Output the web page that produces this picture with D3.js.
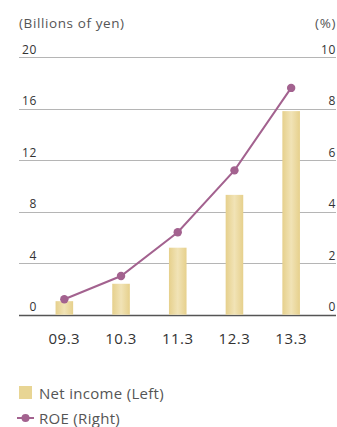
<!DOCTYPE html>
<html>
<head>
<meta charset="utf-8">
<script src="https://cdn.jsdelivr.net/npm/d3@7"></script>
<style>
  body { margin: 0; background: #fff; }
  text { font-family: "Open Sans", sans-serif; }
</style>
</head>
<body>
<div id="chart"></div>
<script>
var years = ["09.3", "10.3", "11.3", "12.3", "13.3"];
var netIncome = [1.05, 2.4, 5.2, 9.3, 15.8];
var roe = [0.6, 1.5, 3.2, 5.6, 8.8];
var leftTicks = [0, 4, 8, 12, 16, 20];
var rightTicks = [0, 2, 4, 6, 8, 10];

var width = 337, height = 427;
var svg = d3.select("#chart").append("svg")
  .attr("width", width).attr("height", height);

var defs = svg.append("defs");
var grad = defs.append("linearGradient").attr("id", "barGrad")
  .attr("x1", "0%").attr("x2", "100%").attr("y1", "0%").attr("y2", "0%");
grad.append("stop").attr("offset", "0%").attr("stop-color", "#e6d08c");
grad.append("stop").attr("offset", "50%").attr("stop-color", "#f1e3b6");
grad.append("stop").attr("offset", "100%").attr("stop-color", "#e6d08c");

var x = d3.scaleBand().domain(years).range([36, 319.5])
  .paddingInner(0.69).paddingOuter(0.345);
var yL = d3.scaleLinear().domain([0, 20]).range([314.7, 57]);
var yR = d3.scaleLinear().domain([0, 10]).range([314.7, 57]);

// gridlines
svg.append("g").selectAll("line")
  .data(leftTicks)
  .enter().append("line")
  .attr("x1", 19).attr("x2", 336)
  .attr("y1", function(d) { return Math.round(yL(d)) + 0.5; })
  .attr("y2", function(d) { return Math.round(yL(d)) + 0.5; })
  .attr("stroke", function(d) { return d == 0 ? "#555" : "#b5b5b5"; })
  .attr("stroke-width", function(d) { return d == 0 ? 1.3 : 1; });

// left labels
svg.append("g").selectAll("text")
  .data(leftTicks)
  .enter().append("text")
  .attr("x", 37).attr("y", function(d) { return yL(d) - 3.5; })
  .attr("text-anchor", "end")
  .attr("font-size", 12).attr("letter-spacing", 0.7).attr("fill", "#333")
  .text(function(d) { return d; });

// right labels
svg.append("g").selectAll("text")
  .data(rightTicks)
  .enter().append("text")
  .attr("x", 336).attr("y", function(d) { return yR(d) - 3.5; })
  .attr("text-anchor", "end")
  .attr("font-size", 12).attr("letter-spacing", 0.7).attr("fill", "#333")
  .text(function(d) { return d; });

svg.append("text").attr("x", 19).attr("y", 27.5)
  .attr("font-size", 13.5).attr("letter-spacing", 0.6).attr("fill", "#555").text("(Billions of yen)");
svg.append("text").attr("x", 336).attr("y", 27.5).attr("text-anchor", "end")
  .attr("font-size", 13.5).attr("letter-spacing", 0.6).attr("fill", "#555").text("(%)");

// bars
svg.append("g").selectAll("rect")
  .data(netIncome)
  .enter().append("rect")
  .attr("x", function(d, i) { return x(years[i]); })
  .attr("width", x.bandwidth())
  .attr("y", function(d) { return yL(d); })
  .attr("height", function(d) { return yL(0) - yL(d); })
  .attr("fill", "url(#barGrad)");

// roe line
var line = d3.line()
  .x(function(d, i) { return x(years[i]) + x.bandwidth() / 2; })
  .y(function(d) { return yR(d); });
svg.append("path").datum(roe)
  .attr("d", line)
  .attr("fill", "none").attr("stroke", "#a3628f").attr("stroke-width", 2);
svg.append("g").selectAll("circle")
  .data(roe)
  .enter().append("circle")
  .attr("cx", function(d, i) { return x(years[i]) + x.bandwidth() / 2; })
  .attr("cy", function(d) { return yR(d); })
  .attr("r", 4.2)
  .attr("fill", "#a3628f");

// x labels
svg.append("g").selectAll("text")
  .data(years)
  .enter().append("text")
  .attr("x", function(d) { return x(d) + x.bandwidth() / 2; })
  .attr("y", 344)
  .attr("text-anchor", "middle")
  .attr("font-size", 15).attr("letter-spacing", 0.5).attr("fill", "#333")
  .text(function(d) { return d; });

// legend
svg.append("rect").attr("x", 19).attr("y", 386).attr("width", 13).attr("height", 13)
  .attr("fill", "#e8d594");
svg.append("text").attr("x", 39).attr("y", 398.5)
  .attr("font-size", 15).attr("letter-spacing", 0.3).attr("fill", "#555").text("Net income (Left)");
svg.append("line").attr("x1", 17).attr("x2", 34).attr("y1", 418).attr("y2", 418)
  .attr("stroke", "#a3628f").attr("stroke-width", 2);
svg.append("circle").attr("cx", 25.5).attr("cy", 418).attr("r", 4).attr("fill", "#a3628f");
svg.append("text").attr("x", 39).attr("y", 423.5)
  .attr("font-size", 15).attr("letter-spacing", 0.3).attr("fill", "#555").text("ROE (Right)");
</script>
</body>
</html>
